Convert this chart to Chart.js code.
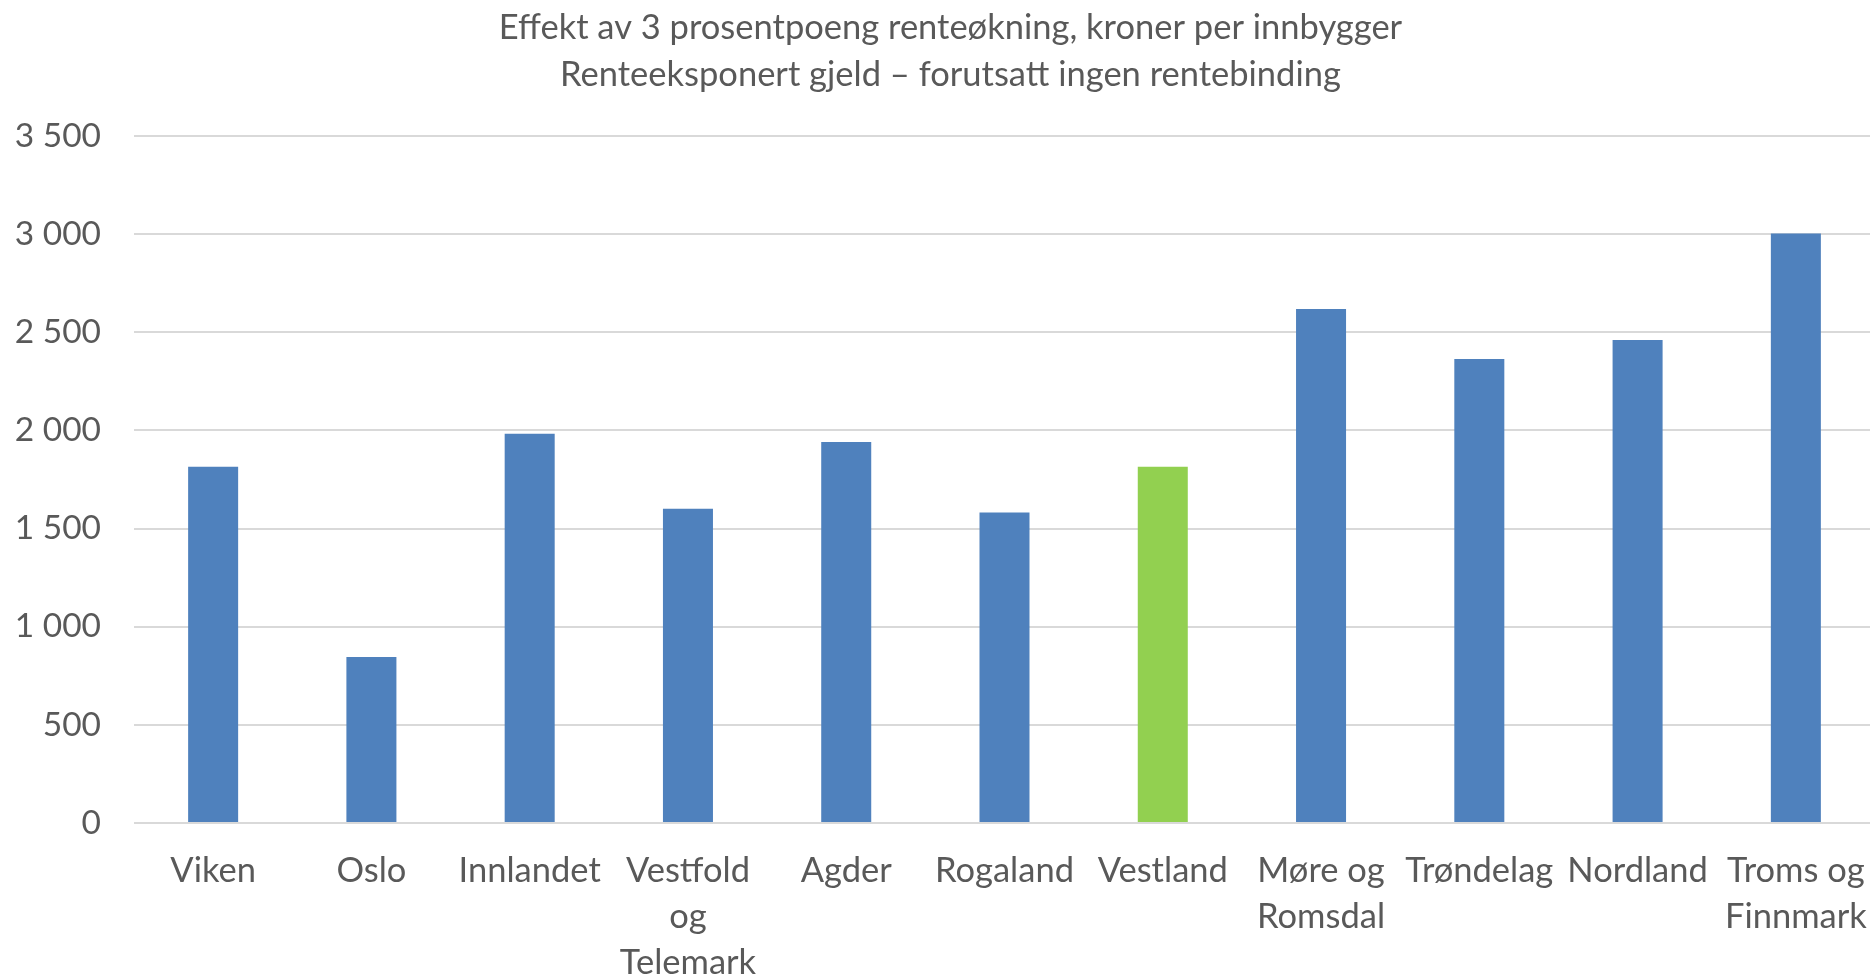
<!DOCTYPE html>
<html>
<head>
<meta charset="utf-8">
<script src="https://cdn.jsdelivr.net/npm/chart.js@4"></script>
<style>
  html, body { margin: 0; padding: 0; background: #fff; }
  #wrap { width: 1870px; height: 975px; }
</style>
</head>
<body>
<div id="wrap"><canvas id="chart" width="1870" height="975"></canvas></div>
<script>
// data
const titleLines = [
    'Effekt av 3 prosentpoeng renteøkning, kroner per innbygger',
    'Renteeksponert gjeld – forutsatt ingen rentebinding'
];
const regions = [
    ['Viken'], ['Oslo'], ['Innlandet'], ['Vestfold', 'og', 'Telemark'], ['Agder'],
    ['Rogaland'], ['Vestland'], ['Møre og', 'Romsdal'], ['Trøndelag'], ['Nordland'],
    ['Troms og', 'Finnmark']
];
const kronerPerInnbygger = [1815, 845, 1983, 1600, 1940, 1581, 1815, 2618, 2363, 2460, 3003];
const yTicks = [0, 500, 1000, 1500, 2000, 2500, 3000, 3500];
const highlighted = 'Vestland';

const blue = '#4F81BD';
const green = '#92D050';
const textColor = '#595959';
const fontFamily = 'Lato, "Open Sans", sans-serif';

// green for the highlighted county, blue for the rest
const barColors = regions.map(r => r.join(' ') === highlighted ? green : blue);

function fmt(v) {
    return String(v).replace(/\B(?=(\d{3})+(?!\d))/g, ' ');
}

// the original plot runs a little past the right edge, and its title sits
// slightly right of centre
const nudge = {
    id: 'nudge',
    afterLayout(chart) {
        chart.titleBlock.left += 31;
        const x = chart.scales.x;
        x.right = 1875;
        x.width = x.right - x.left;
        x.configure();
    },
};

const ctx = document.getElementById('chart').getContext('2d');
new Chart(ctx, {
    type: 'bar',
    data: {
        labels: regions,
        datasets: [{
            data: kronerPerInnbygger,
            backgroundColor: barColors,
            borderWidth: 0,
            categoryPercentage: 1,
            barPercentage: 0.316,
        }],
    },
    plugins: [nudge],
    options: {
        responsive: false,
        animation: false,
        layout: { padding: 0 },
        plugins: {
            legend: { display: false },
            tooltip: { enabled: false },
            title: {
                display: true,
                text: titleLines,
                color: textColor,
                font: { family: fontFamily, size: 34.5, weight: 'normal', lineHeight: 1.36 },
                padding: { top: 4, bottom: 38 },
            },
        },
        scales: {
            y: {
                min: 0,
                max: 3500,
                afterBuildTicks: (scale) => { scale.ticks = yTicks.map(v => ({ value: v })); },
                afterFit: (scale) => { scale.width = 134; },
                ticks: {
                    color: textColor,
                    font: { family: fontFamily, size: 33.5 },
                    padding: 33,
                    callback: (v) => fmt(v),
                },
                grid: { color: '#D9D9D9', lineWidth: 2, drawTicks: false },
                border: { display: false },
            },
            x: {
                ticks: {
                    color: textColor,
                    font: { family: fontFamily, size: 34.5, lineHeight: 1.33 },
                    padding: 25,
                    maxRotation: 0,
                    autoSkip: false,
                },
                afterFit: (scale) => {
                    scale.height = 152;
                    scale.paddingLeft = 0;
                    scale.paddingRight = 0;
                },
                grid: { display: false, drawTicks: false },
                border: { display: false },
            },
        },
    },
});
</script>
</body>
</html>
